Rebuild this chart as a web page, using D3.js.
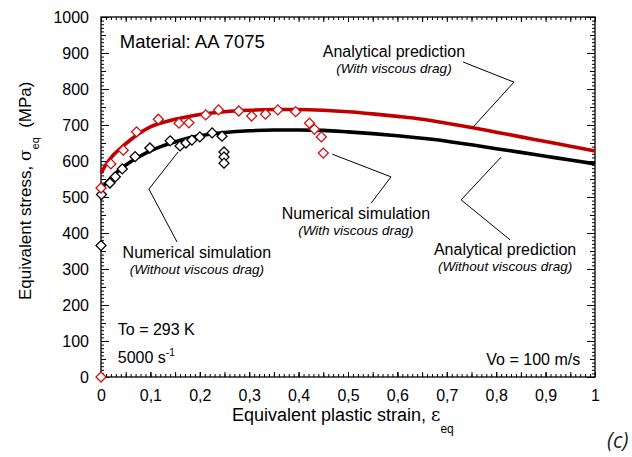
<!DOCTYPE html>
<html>
<head>
<meta charset="utf-8">
<style>
  body { margin: 0; background: #fff; }
  svg { display: block; font-family: "Liberation Sans", Arial, sans-serif; }
  .axis path, .axis line { stroke: #000; }
  .axis text { font-size: 16px; fill: #000; }
</style>
</head>
<body>
<div id="chart"></div>
<script src="https://cdn.jsdelivr.net/npm/d3@7"></script>
<script>
// tick values
var strainTicks = [0, 0.1, 0.2, 0.3, 0.4, 0.5, 0.6, 0.7, 0.8, 0.9, 1];
var stressTicks = [0, 100, 200, 300, 400, 500, 600, 700, 800, 900, 1000];

// analytical prediction, with viscous drag (red curve)
var analyticWith = [
  [0, 566], [0.01, 590], [0.02, 609], [0.04, 636], [0.06, 659], [0.08, 679],
  [0.1, 695], [0.125, 707], [0.15, 716], [0.175, 723], [0.2, 729], [0.25, 737],
  [0.3, 741], [0.35, 743], [0.4, 743], [0.45, 741], [0.5, 737], [0.55, 731],
  [0.6, 724], [0.65, 716], [0.7, 705], [0.75, 693], [0.8, 680], [0.85, 667],
  [0.9, 654], [0.95, 641], [1.0, 628]
];

// analytical prediction, without viscous drag (black curve)
var analyticWithout = [
  [0, 522], [0.01, 538], [0.02, 553], [0.04, 578], [0.06, 598], [0.08, 614],
  [0.1, 628], [0.125, 642], [0.15, 653], [0.175, 663], [0.2, 670], [0.25, 679],
  [0.3, 684], [0.35, 686], [0.4, 686], [0.45, 685], [0.5, 681], [0.55, 676],
  [0.6, 670], [0.65, 663], [0.7, 655], [0.75, 645], [0.8, 634], [0.85, 624],
  [0.9, 613], [0.95, 603], [1.0, 592]
];

// numerical simulation, with viscous drag (red diamonds)
var numericWith = [
  [0, 0], [0, 525], [0.02, 592], [0.045, 630], [0.072, 681], [0.116, 716],
  [0.158, 705], [0.178, 706], [0.212, 728], [0.238, 742], [0.279, 739],
  [0.305, 725], [0.333, 730], [0.358, 742], [0.394, 737], [0.422, 705],
  [0.432, 688], [0.446, 667], [0.45, 622]
];

// numerical simulation, without viscous drag (black diamonds)
var numericWithout = [
  [0, 365], [0.001, 507], [0.018, 539], [0.029, 556], [0.043, 578],
  [0.069, 612], [0.099, 636], [0.14, 656], [0.16, 642], [0.172, 650],
  [0.184, 658], [0.2, 667], [0.225, 678], [0.245, 669], [0.249, 625],
  [0.249, 611], [0.249, 594]
];

// leader lines (strain, stress)
var leaders = [
  [[0.733, 875], [0.836, 819], [0.753, 694]],
  [[0.468, 619], [0.587, 556], [0.547, 483]],
  [[0.810, 611], [0.729, 492], [0.828, 381]],
  [[0.156, 625], [0.097, 522], [0.154, 375]]
];

// curve / point labels: [strain, stress, title, subtitle]
var labels = [
  [0.593, 889, "Analytical prediction", "(With viscous drag)"],
  [0.516, 439, "Numerical simulation", "(With viscous drag)"],
  [0.818, 339, "Analytical prediction", "(Without viscous drag)"],
  [0.194, 331, "Numerical simulation", "(Without viscous drag)"]
];

var width = 632, height = 457;

var x = d3.scaleLinear().domain([0, 1]).range([101, 595]);
var y = d3.scaleLinear().domain([0, 1000]).range([377, 17]);

var svg = d3.select('#chart').append('svg')
  .attr('width', width)
  .attr('height', height);

svg.append('rect').attr('width', width).attr('height', height).attr('fill', '#fff');

var fmt = function (d) { return d === 0 || d === 1 ? String(d) : String(d).replace('.', ','); };

// minor ticks
var xMinor = d3.range(0, 1.0001, 0.01);
var xMid = d3.range(0, 1.0001, 0.05);
var yMinor = d3.range(0, 1001, 10);
var yMid = d3.range(0, 1001, 50);

function addX(pos, gen, vals, size) {
  svg.append('g').attr('class', 'axis')
    .attr('transform', 'translate(0,' + pos + ')')
    .call(gen(x).tickValues(vals).tickSize(size).tickFormat('').tickSizeOuter(0))
    .select('.domain').remove();
}
function addY(pos, gen, vals, size) {
  svg.append('g').attr('class', 'axis')
    .attr('transform', 'translate(' + pos + ',0)')
    .call(gen(y).tickValues(vals).tickSize(size).tickFormat('').tickSizeOuter(0))
    .select('.domain').remove();
}

addX(377, d3.axisBottom, xMinor, -3);
addX(377, d3.axisBottom, xMid, -5);
addX(17, d3.axisTop, xMinor, -3);
addX(17, d3.axisTop, xMid, -5);
addY(101, d3.axisLeft, yMinor, -3);
addY(101, d3.axisLeft, yMid, -5);
addY(595, d3.axisRight, yMinor, -3);
addY(595, d3.axisRight, yMid, -5);

// labelled axes
svg.append('g').attr('class', 'axis')
  .attr('transform', 'translate(0,377)')
  .call(d3.axisBottom(x).tickValues(strainTicks).tickFormat(fmt).tickSize(-5).tickPadding(13).tickSizeOuter(0))
  .select('.domain').remove();

svg.append('g').attr('class', 'axis')
  .attr('transform', 'translate(101,0)')
  .call(d3.axisLeft(y).tickValues(stressTicks).tickFormat(d3.format('d')).tickSize(-8).tickPadding(12).tickSizeOuter(0))
  .select('.domain').remove();

svg.append('g').attr('class', 'axis')
  .attr('transform', 'translate(595,0)')
  .call(d3.axisRight(y).tickValues(stressTicks).tickSize(-8).tickFormat('').tickSizeOuter(0))
  .select('.domain').remove();

// frame
svg.append('rect')
  .attr('x', x(0)).attr('y', y(1000))
  .attr('width', x(1) - x(0)).attr('height', y(0) - y(1000))
  .attr('fill', 'none').attr('stroke', '#000').attr('stroke-width', 1.3);

// curves
var line = d3.line().curve(d3.curveMonotoneX)
  .x(function (d) { return x(d[0]); })
  .y(function (d) { return y(d[1]); });

svg.append('path').datum(analyticWith)
  .attr('d', line).attr('fill', 'none')
  .attr('stroke', '#c00000').attr('stroke-width', 3.6);

svg.append('path').datum(analyticWithout)
  .attr('d', line).attr('fill', 'none')
  .attr('stroke', '#000').attr('stroke-width', 3.6);

// leader lines
svg.selectAll('path.leader')
  .data(leaders)
  .enter()
  .append('path')
    .attr('class', 'leader')
    .attr('d', d3.line().x(function (d) { return x(d[0]); }).y(function (d) { return y(d[1]); }))
    .attr('fill', 'none').attr('stroke', '#000').attr('stroke-width', 1);

// diamonds
var diamond = d3.symbol().type(d3.symbolSquare).size(50);

function drawPoints(data, color) {
  svg.append('g').selectAll('path')
    .data(data)
    .enter()
    .append('path')
      .attr('d', diamond)
      .attr('transform', function (d) {
        return 'translate(' + x(d[0]) + ',' + y(d[1]) + ') rotate(45)';
      })
      .attr('fill', '#fff')
      .attr('stroke', color)
      .attr('stroke-width', 1.3);
}
drawPoints(numericWithout, '#000');
drawPoints(numericWith, '#d01010');

// labels
labels.forEach(function (l) {
  svg.append('text')
    .attr('x', x(l[0])).attr('y', y(l[1]))
    .attr('text-anchor', 'middle')
    .style('font-size', '16px')
    .text(l[2]);
  svg.append('text')
    .attr('x', x(l[0])).attr('y', y(l[1]) + 16)
    .attr('text-anchor', 'middle')
    .style('font-size', '13.5px').style('font-style', 'italic')
    .text(l[3]);
});

svg.append('text')
  .attr('x', x(0.038)).attr('y', y(914))
  .style('font-size', '18.5px')
  .text('Material: AA 7075');

svg.append('text')
  .attr('x', x(0.034)).attr('y', y(117))
  .style('font-size', '16px')
  .text('To = 293 K');

var rate = svg.append('text')
  .attr('x', x(0.034)).attr('y', y(39))
  .style('font-size', '16px');
rate.append('tspan').text('5000 s');
rate.append('tspan').attr('dy', -7).style('font-size', '10px').text('-1');

svg.append('text')
  .attr('x', x(0.97)).attr('y', y(33))
  .attr('text-anchor', 'end')
  .style('font-size', '16px')
  .text('Vo = 100 m/s');

// axis titles
var xt = svg.append('text')
  .attr('x', 232).attr('y', 421)
  .style('font-size', '18px');
xt.append('tspan').text('Equivalent plastic strain, ');
xt.append('tspan').style('font-family', '"DejaVu Serif", serif').text('ε');
xt.append('tspan').attr('dy', 12).style('font-size', '12px').text('eq');

var yt = svg.append('text')
  .attr('transform', 'translate(31,300) rotate(-90)')
  .style('font-size', '17px');
yt.append('tspan').text('Equivalent stress, ');
yt.append('tspan').style('font-family', '"DejaVu Serif", serif').text('σ');
yt.append('tspan').attr('dy', 8).style('font-size', '11px').text('eq');
yt.append('tspan').attr('dy', -8).text('\u00a0\u00a0(MPa)');

svg.append('text')
  .attr('x', 607).attr('y', 448)
  .style('font-family', '"Open Sans", sans-serif')
  .style('font-style', 'italic')
  .style('font-size', '21px')
  .attr('fill', '#222')
  .text('(c)');
</script>
</body>
</html>
